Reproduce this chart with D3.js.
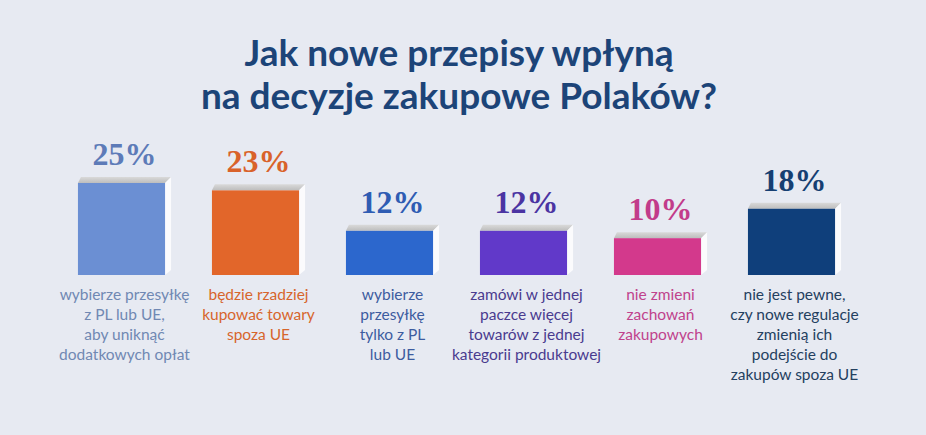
<!DOCTYPE html>
<html><head><meta charset="utf-8">
<script src="https://cdn.jsdelivr.net/npm/d3@7"></script>
<style>
html,body{margin:0;padding:0;background:#e7eaf2;}
svg{display:block;}
</style></head>
<body><svg id="chart" width="926" height="435"></svg>
<script>
const titleLines = ["Jak nowe przepisy wpłyną", "na decyzje zakupowe Polaków?"];
const categories = [
  ["wybierze przesyłkę", "z PL lub UE,", "aby uniknąć", "dodatkowych opłat"],
  ["będzie rzadziej", "kupować towary", "spoza UE"],
  ["wybierze", "przesyłkę", "tylko z PL", "lub UE"],
  ["zamówi w jednej", "paczce więcej", "towarów z jednej", "kategorii produktowej"],
  ["nie zmieni", "zachowań", "zakupowych"],
  ["nie jest pewne,", "czy nowe regulacje", "zmienią ich", "podejście do", "zakupów spoza UE"]
];
const values = [25, 23, 12, 12, 10, 18];
const valueLabels = ["25%", "23%", "12%", "12%", "10%", "18%"];

const barColors = ["#6b8fd3", "#e2662a", "#2c67cd", "#6139c9", "#d3398c", "#0f3f7b"];
const valueColors = ["#5d7bb8", "#d9622a", "#2f5cb3", "#4b34a2", "#c23b8a", "#163f72"];
const textColors = ["#7088b3", "#d7652c", "#3d5c9f", "#4a3b8f", "#c0428c", "#24405f"];

const svg = d3.select("#chart");
svg.append("rect").attr("width", 926).attr("height", 435).attr("fill", "#e7eaf2");

svg.append("g").selectAll("text").data(titleLines).join("text")
  .attr("x", 459).attr("y", (d, i) => 66 + i * 43)
  .attr("text-anchor", "middle")
  .attr("font-family", "Lato, 'Open Sans', sans-serif")
  .attr("font-weight", 700).attr("font-size", 37)
  .attr("fill", "#1c4478")
  .text(d => d);

const idx = d3.range(values.length);
const x = d3.scaleBand().domain(idx).range([54.5, 858.5]).paddingInner(0.35).paddingOuter(0.175);
const y = d3.scaleLinear().domain([0, 25]).range([275, 183]);
const bw = x.bandwidth();
const d = 6; // bevel depth

const defs = svg.append("defs");
const gTop = defs.append("linearGradient").attr("id", "gtop").attr("x1", 0).attr("x2", 0).attr("y1", 0).attr("y2", 1);
gTop.append("stop").attr("offset", 0).attr("stop-color", "#d9d9d9");
gTop.append("stop").attr("offset", 1).attr("stop-color", "#bdbdbd");

const bars = svg.append("g").selectAll("g").data(idx).join("g");
// top bevel
bars.append("path")
  .attr("d", i => {
    const x0 = x(i), x1 = x(i) + bw, t = y(values[i]);
    return `M${x0},${t}L${x0 + 3},${t - d}L${x1 + d},${t - d}L${x1},${t}Z`;
  })
  .attr("fill", "url(#gtop)");
// side
bars.append("path")
  .attr("d", i => {
    const x1 = x(i) + bw, t = y(values[i]), b = y(0);
    return `M${x1},${t}L${x1 + d},${t - d}L${x1 + d},${b - 5}L${x1},${b}Z`;
  })
  .attr("fill", "#fbfbfd");
// front
bars.append("rect")
  .attr("x", i => x(i)).attr("y", i => y(values[i]))
  .attr("width", bw).attr("height", i => y(0) - y(values[i]))
  .attr("fill", i => barColors[i]);

// value labels
svg.append("g").selectAll("text").data(idx).join("text")
  .attr("x", i => x(i) + bw / 2 + 3)
  .attr("y", i => y(values[i]) - 18)
  .attr("text-anchor", "middle")
  .attr("font-family", "'Liberation Serif', 'DejaVu Serif', serif")
  .attr("font-weight", 700).attr("font-size", 32)
  .attr("fill", i => valueColors[i])
  .text(i => valueLabels[i]);

// category labels
const cat = svg.append("g").selectAll("text").data(idx).join("text")
  .attr("text-anchor", "middle")
  .attr("font-family", "Lato, 'Open Sans', sans-serif")
  .attr("font-size", 15.5)
  .attr("fill", i => textColors[i]);
cat.selectAll("tspan").data(i => categories[i].map(t => ({t, i}))).join("tspan")
  .attr("x", o => x(o.i) + bw / 2 + 3)
  .attr("y", (o, k) => 300 + k * 20)
  .text(o => o.t);
</script>
</body></html>
